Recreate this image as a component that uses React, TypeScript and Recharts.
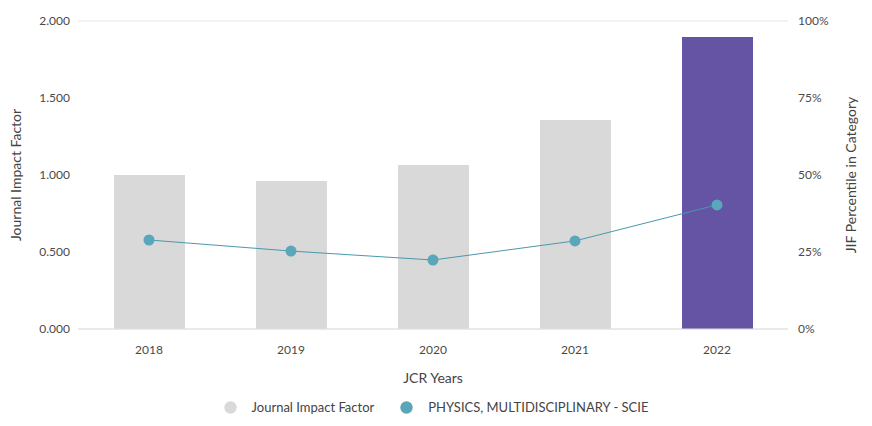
import React from "react";
import {
  ComposedChart, Bar, Line, XAxis, YAxis, CartesianGrid, Legend, Cell,
} from "recharts";

const years = ["2018", "2019", "2020", "2021", "2022"];
const impactFactor = [1.0, 0.961, 1.065, 1.357, 1.896];
const percentile = [28.9, 25.3, 22.4, 28.6, 40.3];
const leftTicks = [0, 0.5, 1, 1.5, 2];
const rightTicks = [0, 25, 50, 75, 100];

const BAR_GREY = "#d9d9d9";
const BAR_CURRENT = "#6553a3";
const DOT_COLOR = "#5aa6ba";
const LINE_COLOR = "#4b98ad";
const FONT = "Lato, 'Noto Sans', sans-serif";

const chartData = years.map((year, i) => ({
  year,
  jif: impactFactor[i],
  pct: percentile[i],
}));

const legendItems = [
  { label: "Journal Impact Factor", color: BAR_GREY },
  { label: "PHYSICS, MULTIDISCIPLINARY - SCIE", color: DOT_COLOR },
];

const renderLegend = () => (
  <div style={{ display: "flex", justifyContent: "center", gap: 26, paddingTop: 3, fontFamily: FONT, fontSize: 13, color: "#444" }}>
    {legendItems.map((item) => (
      <div key={item.label} style={{ display: "flex", alignItems: "center", gap: 15 }}>
        <svg width={13} height={13}>
          <circle cx={6.5} cy={6.5} r={6.2} fill={item.color} />
        </svg>
        <span>{item.label}</span>
      </div>
    ))}
  </div>
);

export default function App() {
  const tick = { fill: "#4a4a4a", fontSize: 12, fontFamily: FONT };
  const axisLabel = { fill: "#444", fontSize: 14, fontFamily: FONT, fontWeight: 400 };

  return (
    <div style={{ position: "absolute", left: 0, top: 0, width: 872, height: 426, background: "#fff" }}>
      <ComposedChart
        width={872}
        height={426}
        data={chartData}
        margin={{ top: 21, right: 0, left: 0, bottom: 0 }}
      >
        <CartesianGrid vertical={false} stroke="#e6e6e6" />
        <XAxis
          dataKey="year"
          height={67}
          tick={tick}
          tickLine={false}
          axisLine={{ stroke: "#e0e0e0" }}
          tickMargin={10}
          label={{ value: "JCR Years", position: "insideBottom", offset: 13, style: axisLabel }}
        />
        <YAxis
          yAxisId="left"
          width={78}
          domain={[0, 2]}
          ticks={leftTicks}
          tickFormatter={(v: number) => v.toFixed(3)}
          tick={tick}
          tickLine={false}
          axisLine={false}
          label={{ value: "Journal Impact Factor", angle: -90, position: "insideLeft", offset: 16, style: { ...axisLabel, textAnchor: "middle" } }}
        />
        <YAxis
          yAxisId="right"
          orientation="right"
          width={84}
          domain={[0, 100]}
          ticks={rightTicks}
          tickFormatter={(v: number) => `${v}%`}
          tick={{ ...tick, textAnchor: "start" }}
          tickLine={false}
          axisLine={false}
          tickMargin={4}
          label={{ value: "JIF Percentile in Category", angle: -90, position: "insideRight", offset: 21, style: { ...axisLabel, textAnchor: "middle" } }}
        />
        <Legend verticalAlign="bottom" height={30} content={renderLegend} />
        <Bar yAxisId="left" dataKey="jif" barSize={71} isAnimationActive={false}>
          {chartData.map((d, i) => (
            <Cell key={d.year} fill={i === chartData.length - 1 ? BAR_CURRENT : BAR_GREY} />
          ))}
        </Bar>
        <Line
          yAxisId="right"
          dataKey="pct"
          type="linear"
          stroke={LINE_COLOR}
          strokeWidth={1}
          dot={{ r: 5.5, fill: DOT_COLOR, stroke: DOT_COLOR, strokeWidth: 0 }}
          activeDot={false}
          isAnimationActive={false}
        />
      </ComposedChart>
    </div>
  );
}
